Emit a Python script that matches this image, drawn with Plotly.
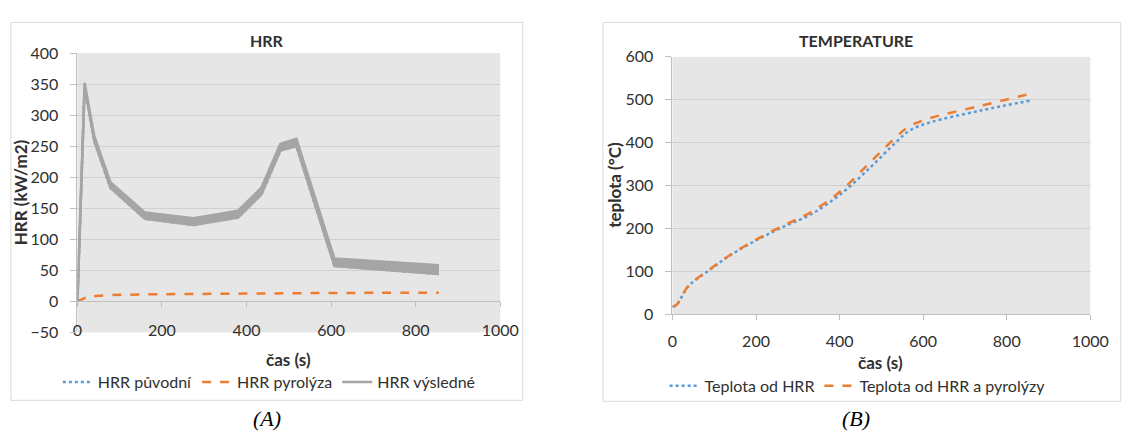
import plotly.graph_objects as go

W, H = 1125, 438

# ---------------- data ----------------
hrr_time = [0, 17, 40, 78, 160, 275, 380, 435, 480, 518, 608, 855]
hrr_puvodni = [0, 345, 258, 183, 133, 123, 135, 172, 243, 250, 57, 44]
hrr_vysledne = [0, 352, 266, 192, 143, 134, 146, 183, 254, 262, 69, 58]

pyro_time = [0, 10, 20, 30, 50, 80, 120, 200, 300, 400, 500, 600, 700, 855]
hrr_pyrolyza = [0, 3, 6, 7.5, 9, 10, 10.7, 11.5, 12, 12.5, 13, 13.5, 13.7, 14]

temp_time = [0, 10, 38, 87, 136, 200, 266, 330, 400, 469, 534, 567, 616, 738, 856]
teplota_hrr = [18, 22, 65, 102, 136, 172, 204, 232, 278, 338, 400, 428, 447, 475, 498]
teplota_hrr_pyro = [18, 22, 66, 103, 137, 174, 207, 237, 285, 350, 412, 438, 457, 486, 514]

x_ticks = [0, 200, 400, 600, 800, 1000]
hrr_y_ticks = [-50, 0, 50, 100, 150, 200, 250, 300, 350, 400]
temp_y_ticks = [0, 100, 200, 300, 400, 500, 600]

BLUE = "#5B9BD5"
ORANGE = "#ED7D31"
GREY = "#A5A5A5"
FONT = "Lato"
TXT = "#303030"


def px(x):
    return x / W


def py(y):
    return 1 - y / H


# plot-area domains (pixel positions)
L_dom_x = [px(74), px(506)]
L_dom_y = [py(337), py(45)]
R_dom_x = [px(682), px(1109)]
R_dom_y = [py(318), py(49)]

fig = go.Figure()

# ---- left chart (HRR) ----
fig.add_trace(go.Scatter(x=hrr_time, y=hrr_puvodni, name="HRR původní", mode="lines",
                         line=dict(color=BLUE, width=2.5, dash="dot"),
                         xaxis="x", yaxis="y", legend="legend"))
fig.add_trace(go.Scatter(x=pyro_time, y=hrr_pyrolyza, name="HRR pyrolýza", mode="lines",
                         line=dict(color=ORANGE, width=2.5, dash="dash", shape="spline"),
                         xaxis="x", yaxis="y", legend="legend"))
fig.add_trace(go.Scatter(x=hrr_time, y=hrr_puvodni, name="HRR výsledné", mode="lines",
                         line=dict(color=GREY, width=2.5),
                         xaxis="x", yaxis="y", legend="legend"))
fig.add_trace(go.Scatter(x=hrr_time, y=hrr_vysledne, name="HRR výsledné", mode="lines",
                         line=dict(color=GREY, width=2.5), fill="tonexty",
                         fillcolor=GREY, showlegend=False,
                         xaxis="x", yaxis="y"))
# invisible trace carrying the zero-crossing x axis
fig.add_trace(go.Scatter(x=[0, 1000], y=[0, 0], mode="lines", line=dict(width=0),
                         showlegend=False, hoverinfo="skip", xaxis="x3", yaxis="y"))

# ---- right chart (temperature) ----
fig.add_trace(go.Scatter(x=temp_time, y=teplota_hrr, name="Teplota od HRR", mode="lines",
                         line=dict(color=BLUE, width=2.5, dash="dot", shape="spline"),
                         xaxis="x2", yaxis="y2", legend="legend2"))
fig.add_trace(go.Scatter(x=temp_time, y=teplota_hrr_pyro, name="Teplota od HRR a pyrolýzy",
                         mode="lines",
                         line=dict(color=ORANGE, width=2.5, dash="dash", shape="spline"),
                         xaxis="x2", yaxis="y2", legend="legend2"))

tickfont = dict(family=FONT, size=16, color=TXT)
zero_pos = L_dom_y[0] + (L_dom_y[1] - L_dom_y[0]) * 50 / 450

fig.update_layout(
    width=W, height=H,
    margin=dict(l=0, r=0, t=0, b=0),
    paper_bgcolor="white",
    plot_bgcolor="#E6E6E6",
    font=dict(family=FONT, size=15, color=TXT),
    xaxis=dict(domain=L_dom_x, anchor="y", range=[0, 1000], tickvals=x_ticks,
               showgrid=False, zeroline=False, showline=False, ticks="",
               ticklabelposition="inside", ticklabeloverflow="allow",
               ticklabelstandoff=-10, tickfont=tickfont, fixedrange=True),
    xaxis3=dict(overlaying="x", anchor="free", position=zero_pos, range=[0, 1000],
                tickvals=x_ticks, showticklabels=False, showgrid=False, zeroline=False,
                showline=True, linecolor="#BFBFBF", linewidth=1,
                ticks="outside", ticklen=5, tickcolor="#BFBFBF"),
    yaxis=dict(domain=L_dom_y, anchor="x", range=[-50, 400], tickvals=hrr_y_ticks,
               showgrid=True, gridcolor="#CFCFCF", gridwidth=1, zeroline=False,
               showline=True, linecolor="#BFBFBF", ticks="outside", ticklen=6,
               tickcolor="#BFBFBF", ticklabelstandoff=9, tickfont=tickfont),
    xaxis2=dict(domain=R_dom_x, anchor="y2", range=[0, 1000], tickvals=x_ticks,
                showgrid=False, zeroline=False, showline=True, linecolor="#BFBFBF",
                ticks="outside", ticklen=5, tickcolor="#BFBFBF",
                ticklabelstandoff=8, ticklabeloverflow="allow", tickfont=tickfont),
    yaxis2=dict(domain=R_dom_y, anchor="x2", range=[0, 600], tickvals=temp_y_ticks,
                showgrid=True, gridcolor="#CFCFCF", gridwidth=1, zeroline=False,
                showline=True, linecolor="#BFBFBF", ticks="outside", ticklen=6,
                tickcolor="#BFBFBF", ticklabelstandoff=9, tickfont=tickfont),
    legend=dict(orientation="h", x=px(54), xanchor="left", y=py(389), yanchor="middle",
                font=dict(family=FONT, size=16, color=TXT), bgcolor="rgba(0,0,0,0)",
                itemwidth=30, traceorder="normal"),
    legend2=dict(orientation="h", x=px(674), xanchor="left", y=py(393), yanchor="middle",
                 font=dict(family=FONT, size=16, color=TXT), bgcolor="rgba(0,0,0,0)",
                 itemwidth=30, traceorder="normal"),
    shapes=[
        dict(type="rect", xref="paper", yref="paper", x0=px(6), x1=px(529), y0=py(408),
             y1=py(13), line=dict(color="#D9D9D9", width=1)),
        dict(type="rect", xref="paper", yref="paper", x0=px(611), x1=px(1140), y0=py(409),
             y1=py(13), line=dict(color="#D9D9D9", width=1)),
    ],
)

ann = [
    dict(text="<b>HRR</b>", x=px(268), y=py(32), size=16, font=FONT),
    dict(text="<b>TEMPERATURE</b>", x=px(870), y=py(32), size=16, font=FONT),
    dict(text="<b>čas (s)</b>", x=px(290), y=py(365), size=17, font=FONT),
    dict(text="<b>čas (s)</b>", x=px(895), y=py(368), size=17, font=FONT),
    dict(text="<i>(A)</i>", x=px(268), y=py(427), size=22, font="Liberation Serif"),
    dict(text="<i>(B)</i>", x=px(870), y=py(427), size=22, font="Liberation Serif"),
]
for a in ann:
    fig.add_annotation(text=a["text"], x=a["x"], y=a["y"], xref="paper", yref="paper",
                       xanchor="center", yanchor="middle", showarrow=False,
                       font=dict(family=a["font"], size=a["size"],
                                 color="#000000" if "Serif" in a["font"] else TXT))
fig.add_annotation(text="<b>HRR (kW/m2)</b>", x=px(16), y=py(191), xref="paper", yref="paper",
                   textangle=-90, showarrow=False, xanchor="center", yanchor="middle",
                   font=dict(family=FONT, size=17, color=TXT))
fig.add_annotation(text="<b>teplota (°C)</b>", x=px(622), y=py(183), xref="paper", yref="paper",
                   textangle=-90, showarrow=False, xanchor="center", yanchor="middle",
                   font=dict(family=FONT, size=17, color=TXT))

fig.write_html("out.html")
